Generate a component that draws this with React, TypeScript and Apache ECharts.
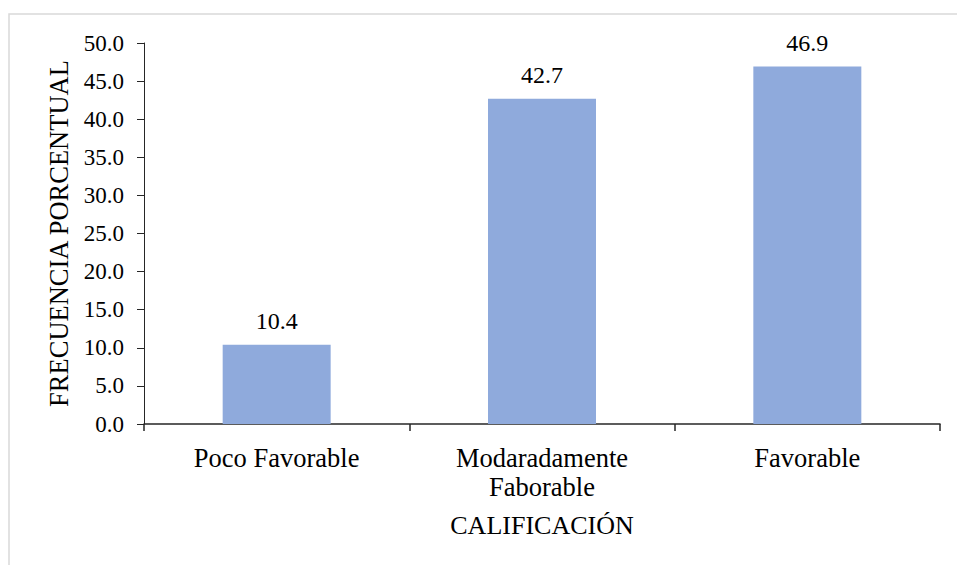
import React, { useEffect, useRef } from "react";
import * as echarts from "echarts";

const categories = ["Poco Favorable", "Modaradamente\nFaborable", "Favorable"];
const values = [10.4, 42.7, 46.9];
const yTitle = "FRECUENCIA PORCENTUAL";
const xTitle = "CALIFICACIÓN";

const FONT = "Liberation Serif";

export default function App() {
  const ref = useRef<HTMLDivElement>(null);
  useEffect(() => {
    document.body.style.margin = "0";
    if (!ref.current) return;
    const chart = echarts.init(ref.current, undefined, { renderer: "svg" });
    chart.setOption({
      animation: false,
      backgroundColor: "#ffffff",
      textStyle: { fontFamily: FONT, color: "#000" },
      graphic: [
        {
          type: "rect",
          shape: { x: 9, y: 14, width: 1000, height: 600 },
          style: { fill: "none", stroke: "#d9d9d9", lineWidth: 1.5 },
          silent: true,
          z: -1,
        },
      ],
      grid: { left: 144, right: 17, top: 43, bottom: 141, containLabel: false },
      xAxis: {
        type: "category",
        data: categories,
        name: xTitle,
        nameLocation: "middle",
        nameGap: 88,
        nameTextStyle: { fontFamily: FONT, fontSize: 26, color: "#000" },
        axisLine: { show: true, lineStyle: { color: "#262626", width: 1.5 } },
        axisTick: { show: true, length: 7, lineStyle: { color: "#262626", width: 1.5 } },
        axisLabel: {
          margin: 19,
          interval: 0,
          formatter: (v: string) =>
            v.split("\n").map((s) => "{t|" + s + "}").join("\n"),
          rich: {
            t: { fontFamily: FONT, fontSize: 26.5, color: "#000", lineHeight: 29 },
          },
        },
        splitLine: { show: false },
      },
      yAxis: {
        type: "value",
        min: 0,
        max: 50,
        interval: 5,
        name: yTitle,
        nameLocation: "middle",
        nameGap: 72,
        nameTextStyle: { fontFamily: FONT, fontSize: 26.5, color: "#000" },
        axisLine: { show: true, lineStyle: { color: "#262626", width: 1 } },
        axisTick: { show: true, length: 7, lineStyle: { color: "#262626", width: 1 } },
        axisLabel: {
          margin: 20,
          formatter: (v: number) => "{t|" + v.toFixed(1) + "}",
          rich: { t: { fontFamily: FONT, fontSize: 23, color: "#000" } },
        },
        splitLine: { show: false },
      },
      series: [
        {
          type: "bar",
          data: values,
          barWidth: "40.7%",
          itemStyle: { color: "#8FAADC" },
          label: {
            show: true,
            position: "top",
            distance: 12,
            formatter: (p: any) => "{t|" + Number(p.value).toFixed(1) + "}",
            rich: { t: { fontFamily: FONT, fontSize: 24, color: "#000" } },
          },
        },
      ],
    });
    return () => chart.dispose();
  }, []);
  return <div ref={ref} style={{ width: 957, height: 565 }} />;
}
